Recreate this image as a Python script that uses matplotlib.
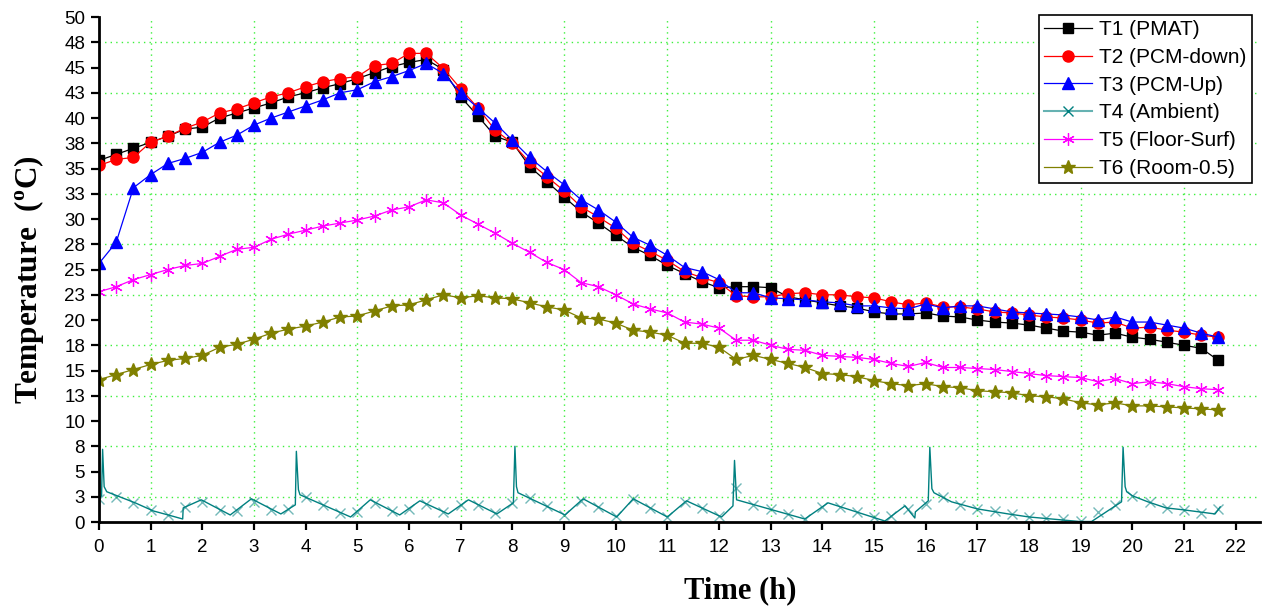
import numpy as np
import matplotlib
matplotlib.use('Agg')
import matplotlib.pyplot as plt
from matplotlib.lines import Line2D

# time of each marker, every 20 min (h)
hours = np.arange(66) / 3.0

t1_pmat = [35.8, 36.4, 37.0, 37.6, 38.2, 38.9,
           39.1, 40.0, 40.5, 41.0, 41.5, 42.1,
           42.5, 43.0, 43.4, 43.9, 44.5, 45.1,
           45.5, 45.8, 44.8, 42.1, 40.2, 38.2,
           37.6, 35.2, 33.7, 32.2, 30.7, 29.6,
           28.4, 27.2, 26.4, 25.4, 24.6, 23.8,
           23.2, 23.3, 23.3, 23.2, 22.3, 22.0,
           21.7, 21.4, 21.2, 20.8, 20.6, 20.6,
           20.7, 20.4, 20.3, 20.0, 19.8, 19.7,
           19.5, 19.2, 18.9, 18.8, 18.5, 18.7,
           18.3, 18.1, 17.8, 17.5, 17.2, 16.0]

t2_pcm_down = [35.3, 35.9, 36.1, 37.6, 38.2, 39.0,
               39.6, 40.5, 40.9, 41.5, 42.1, 42.5,
               43.1, 43.6, 43.9, 44.1, 45.2, 45.4,
               46.4, 46.4, 44.9, 42.9, 41.0, 38.8,
               37.5, 35.6, 34.2, 32.8, 31.2, 30.2,
               29.1, 27.6, 26.8, 25.9, 24.8, 24.2,
               23.7, 22.4, 22.3, 22.3, 22.6, 22.7,
               22.5, 22.5, 22.3, 22.2, 21.8, 21.5,
               21.7, 21.3, 21.3, 21.1, 20.8, 20.7,
               20.5, 20.3, 20.2, 20.0, 19.7, 19.8,
               19.2, 19.3, 19.0, 18.8, 18.5, 18.3]

t3_pcm_up = [25.6, 27.7, 33.1, 34.4, 35.5, 36.0,
             36.6, 37.6, 38.3, 39.3, 40.0, 40.6,
             41.2, 41.8, 42.5, 42.8, 43.6, 44.1,
             44.7, 45.4, 44.4, 42.5, 41.0, 39.5,
             37.8, 36.1, 34.7, 33.4, 31.9, 30.9,
             29.7, 28.2, 27.4, 26.4, 25.2, 24.8,
             24.0, 22.7, 22.7, 22.2, 22.1, 22.0,
             21.8, 21.7, 21.4, 21.4, 21.2, 21.1,
             21.6, 21.2, 21.4, 21.4, 21.1, 20.8,
             20.7, 20.6, 20.5, 20.3, 20.0, 20.3,
             19.8, 19.8, 19.5, 19.2, 18.7, 18.3]

# ambient: values at the 20 min markers
t4_ambient = [2.3, 2.5, 1.9, 1.2, 0.7, 1.5,
              2.0, 1.2, 1.1, 2.0, 1.2, 1.3,
              2.5, 1.7, 0.9, 1.0, 1.9, 1.1,
              1.3, 1.8, 1.0, 1.7, 1.7, 0.9,
              1.9, 2.4, 1.6, 0.7, 2.1, 1.5,
              0.6, 2.3, 1.4, 0.5, 2.0, 1.4,
              0.6, 3.4, 1.7, 1.3, 0.8, 0.3,
              1.5, 1.5, 1.0, 0.5, 0.6, 1.3,
              1.8, 2.5, 1.7, 1.3, 1.1, 0.8,
              0.5, 0.4, 0.3, 0.1, 1.0, 1.7,
              2.6, 2.0, 1.4, 1.2, 0.9, 1.3]

# ambient: the full recorded trace (with the spikes)
t4_trace_h = [0.0, 0.05, 0.07, 0.1, 0.15, 0.7, 1.05, 1.41, 1.62, 1.63, 1.98,
              2.54, 2.95, 3.52, 3.80, 3.82, 3.86, 3.89, 4.87, 5.25, 5.82,
              6.21, 6.76, 7.15, 7.70, 8.02, 8.05, 8.08, 8.11, 9.02, 9.37,
              10.02, 10.34, 11.0, 11.37, 12.05, 12.27, 12.30, 12.34, 13.66,
              14.11, 15.21, 15.6, 15.79, 15.8, 16.05, 16.08, 16.12, 16.16,
              16.5, 17.0, 17.6, 18.0, 18.98, 19.21, 19.79, 19.82, 19.86,
              19.89, 20.0, 20.3, 20.65, 21.0, 21.6, 21.7]
t4_trace_v = [2.3, 2.6, 7.2, 3.5, 3.0, 1.9, 1.1, 0.6, 0.3, 1.4, 2.2,
              0.7, 2.3, 0.8, 1.7, 7.0, 3.2, 2.7, 0.5, 2.2, 0.7,
              2.1, 0.8, 2.2, 0.8, 1.9, 7.5, 3.5, 2.9, 0.7, 2.3,
              0.5, 2.3, 0.5, 2.1, 0.5, 1.6, 6.1, 2.2, 0.3,
              1.9, 0.1, 1.6, 0.4, 1.0, 2.1, 7.4, 3.3, 2.9,
              2.0, 1.3, 0.8, 0.5, 0.05, 0.05, 2.0, 7.4, 3.5,
              3.0, 2.6, 2.0, 1.4, 1.2, 0.8, 1.5]

t5_floor = [22.8, 23.3, 24.0, 24.5, 25.0, 25.4,
            25.6, 26.3, 27.0, 27.2, 28.0, 28.5,
            28.9, 29.3, 29.6, 29.9, 30.3, 30.9,
            31.2, 31.9, 31.6, 30.4, 29.5, 28.6,
            27.6, 26.7, 25.7, 25.0, 23.7, 23.3,
            22.5, 21.6, 21.1, 20.7, 19.8, 19.6,
            19.2, 18.0, 18.0, 17.5, 17.1, 17.0,
            16.5, 16.4, 16.3, 16.1, 15.7, 15.4,
            15.8, 15.3, 15.3, 15.2, 15.1, 14.9,
            14.7, 14.5, 14.4, 14.3, 13.9, 14.2,
            13.7, 13.9, 13.7, 13.4, 13.2, 13.1]

t6_room = [14.1, 14.6, 15.1, 15.6, 16.0, 16.2,
           16.5, 17.3, 17.6, 18.1, 18.7, 19.1,
           19.4, 19.8, 20.3, 20.4, 20.9, 21.4,
           21.5, 22.0, 22.5, 22.2, 22.4, 22.2,
           22.1, 21.7, 21.3, 21.0, 20.2, 20.1,
           19.7, 19.0, 18.8, 18.5, 17.7, 17.7,
           17.3, 16.1, 16.5, 16.1, 15.7, 15.3,
           14.7, 14.6, 14.4, 14.0, 13.7, 13.5,
           13.7, 13.4, 13.3, 13.0, 12.9, 12.8,
           12.5, 12.4, 12.2, 11.8, 11.6, 11.8,
           11.5, 11.5, 11.4, 11.3, 11.2, 11.1]

labels = ['T1 (PMAT)', 'T2 (PCM-down)', 'T3 (PCM-Up)', 'T4 (Ambient)',
          'T5 (Floor-Surf)', 'T6 (Room-0.5)']
xticks = list(range(0, 23))
yticks = np.arange(0, 50.1, 2.5)
ytick_labels = ['%d' % np.floor(v + 0.5) for v in yticks]

plt.rcParams['font.family'] = ['Liberation Sans', 'DejaVu Sans']
plt.rcParams['mathtext.fontset'] = 'custom'
plt.rcParams['mathtext.rm'] = 'Liberation Serif:bold'

fig = plt.figure(figsize=(12.69, 6.08), dpi=100)
ax = fig.add_axes([0.078, 0.1414, 0.9149, 0.8306])

# dotted green grid at odd hours and at 2.5 + 5k
for h in range(1, 23, 2):
    ax.axvline(h, color='#3cf03c', lw=1.0, ls=(0, (1, 3)), zorder=0)
for v in np.arange(2.5, 50, 5):
    ax.axhline(v, color='#3cf03c', lw=1.0, ls=(0, (1, 3)), zorder=0)

ax.plot(hours, t1_pmat, color='black', lw=0.9, marker='s', ms=7, label=labels[0])
ax.plot(hours, t2_pcm_down, color='red', lw=0.9, marker='o', ms=8, label=labels[1])
ax.plot(hours, t3_pcm_up, color='blue', lw=0.9, marker='^', ms=9, label=labels[2])
ax.plot(t4_trace_h, t4_trace_v, color='#008080', lw=1.0)
ax.plot(hours, t4_ambient, color='#008080', ls='none', marker='x', ms=7,
        mew=1.0, alpha=0.55)
ax.plot(hours, t5_floor, color='#ff00ff', lw=0.9, marker=(6, 2, 0), ms=9,
        mew=0.9, label=labels[4])
ax.plot(hours, t6_room, color='#808000', lw=0.9, marker='*', ms=10, label=labels[5])

handles, _ = ax.get_legend_handles_labels()
h4 = Line2D([], [], color='#66b2b2', lw=1.5, marker='x', ms=7,
            mec='#008080', mew=1.0)
handles = handles[:3] + [h4] + handles[3:]
leg = ax.legend(handles, labels, loc='upper right', bbox_to_anchor=(0.993, 1.004),
                borderaxespad=0, fontsize=15, handlelength=2.3, handletextpad=0.35,
                labelspacing=0.42, borderpad=0.25, fancybox=False, framealpha=1,
                edgecolor='black')
leg.get_frame().set_linewidth(1.2)

ax.set_xlim(0, 22.47)
ax.set_ylim(0, 50)
ax.set_xticks(xticks)
ax.set_yticks(yticks)
ax.set_yticklabels(ytick_labels)
ax.tick_params(axis='both', direction='out', length=6, width=1.6,
               labelsize=13.5, colors='black')
ax.tick_params(axis='x', pad=6)
ax.tick_params(axis='y', pad=4)
for s in ['top', 'right']:
    ax.spines[s].set_visible(False)
for s in ['left', 'bottom']:
    ax.spines[s].set_linewidth(2.0)

ax.set_xlabel('Time (h)', family='Liberation Serif', weight='bold', fontsize=22)
ax.set_ylabel('Temperature  ($^{\\rm o}$C)', family='Liberation Serif',
              weight='bold', fontsize=22.5)
ax.xaxis.set_label_coords(0.552, -0.108)
ax.yaxis.set_label_coords(-0.046, 0.479)

fig.savefig('out.png', dpi=100)
